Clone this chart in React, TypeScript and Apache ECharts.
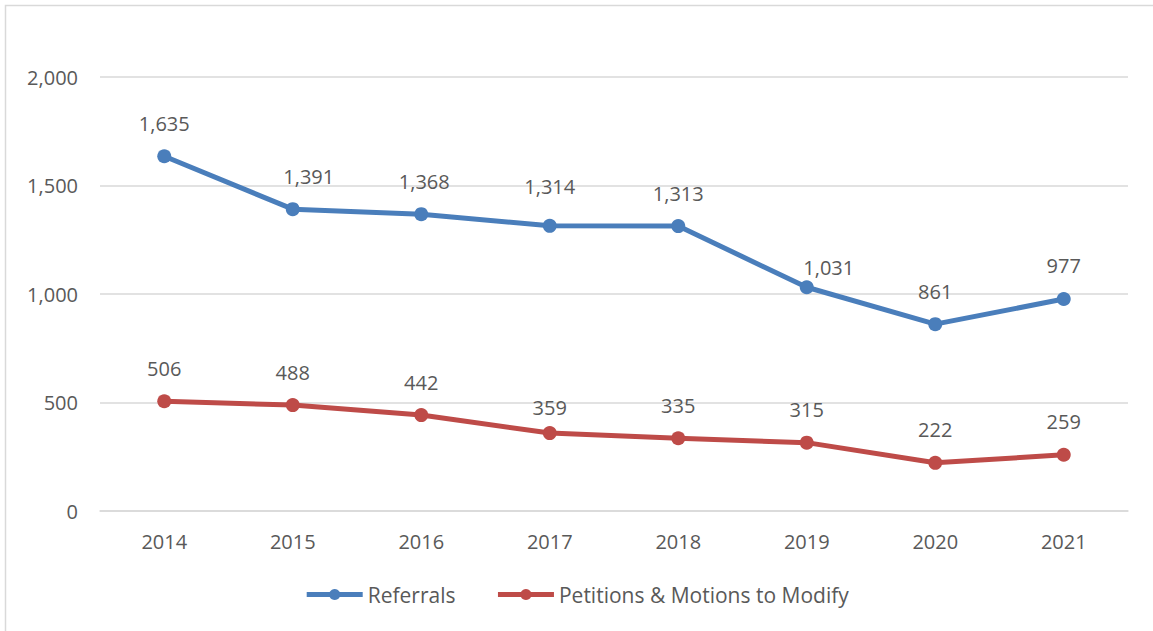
import React, { useEffect, useRef } from "react";
import * as echarts from "echarts";

const years = ["2014", "2015", "2016", "2017", "2018", "2019", "2020", "2021"];
const referrals = [1635, 1391, 1368, 1314, 1313, 1031, 861, 977];
const petitions = [506, 488, 442, 359, 335, 315, 222, 259];
const seriesNames = ["Referrals", "Petitions & Motions to Modify"];
// per-point label nudges (Excel placement quirks), [dx, dy] in px
const referralLabelShift: number[][] = [[0, 0], [16, 0], [3, 0], [0, -6], [0, 0], [22, 13], [0, 0], [0, 0]];
const petitionLabelShift: number[][] = [[0, 0], [0, 0], [0, 0], [0, 7], [0, 0], [0, 0], [0, 0], [0, 0]];

const FONT = "'Open Sans', 'Noto Sans', sans-serif";
const TXT = "#595959";
const FS = 20;

export default function App() {
  const ref = useRef<HTMLDivElement>(null);
  useEffect(() => {
    const chart = echarts.init(ref.current!, null, { renderer: "svg" });
    const fmt = (v: number) => v.toLocaleString("en-US");
    const mk = (name: string, data: number[], shifts: number[][], color: string) => ({
      name,
      type: "line",
      data: data.map((v, i) => ({ value: v, label: { offset: shifts[i] } })),
      symbol: "circle",
      symbolSize: 14,
      lineStyle: { width: 5, color },
      itemStyle: { color },
      label: {
        show: true,
        position: "top",
        distance: 16,
        color: TXT,
        fontFamily: FONT,
        fontSize: FS,
        formatter: (p: any) => fmt(p.value),
      },
    });
    chart.setOption({
      animation: false,
      backgroundColor: "#ffffff",
      textStyle: { fontFamily: FONT },
      graphic: [
        {
          type: "rect",
          shape: { x: 5.5, y: 5.5, width: 1200, height: 700 },
          style: { fill: "none", stroke: "#d9d9d9", lineWidth: 1.5 },
          silent: true,
        },
      ],
      grid: { left: 100, right: 25, top: 77, bottom: 120, containLabel: false },
      legend: {
        bottom: 21,
        left: "center",
        itemWidth: 56,
        itemHeight: 14,
        itemGap: 40,
        lineStyle: { width: 5 },
        textStyle: { color: TXT, fontSize: 21, fontFamily: FONT },
        data: seriesNames,
      },
      xAxis: {
        type: "category",
        data: years,
        boundaryGap: true,
        axisLine: { show: true, lineStyle: { color: "#d9d9d9", width: 1.5 } },
        axisTick: { show: false },
        axisLabel: { color: TXT, fontSize: FS, fontFamily: FONT, margin: 20 },
      },
      yAxis: {
        type: "value",
        min: 0,
        max: 2000,
        interval: 500,
        axisLine: { show: false },
        axisTick: { show: false },
        splitLine: { lineStyle: { color: "#d9d9d9", width: 1.5 } },
        axisLabel: {
          color: TXT,
          fontSize: FS,
          fontFamily: FONT,
          margin: 22,
          formatter: (v: number) => fmt(v),
        },
      },
      series: [
        mk(seriesNames[0], referrals, referralLabelShift, "#4a7ebb"),
        mk(seriesNames[1], petitions, petitionLabelShift, "#be4b48"),
      ],
    });
    return () => chart.dispose();
  }, []);
  return (
    <div
      ref={ref}
      style={{ position: "fixed", left: 0, top: 0, width: 1153, height: 631 }}
    />
  );
}
